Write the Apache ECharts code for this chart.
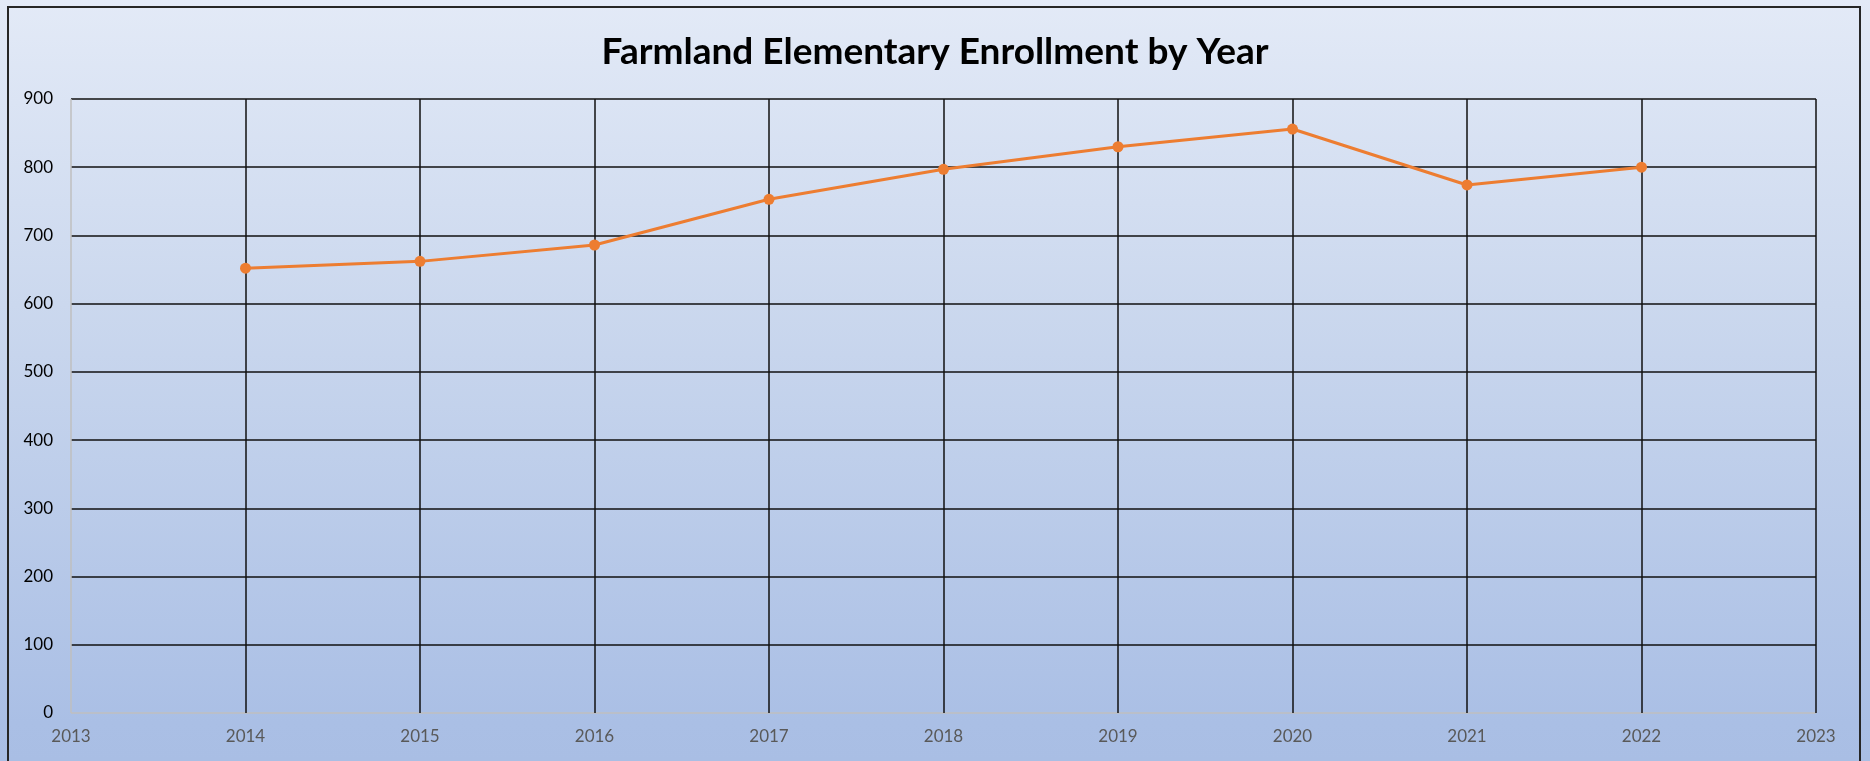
<!DOCTYPE html>
<html style="height: 100%">
<head>
    <meta charset="utf-8">
</head>
<body style="height: 100%; margin: 0; width: 100%;">
<div id="container" style="height: 100%; width: 100%; background: linear-gradient(to bottom, #e3eaf7 0%, #cbd8ee 40%, #aabfe5 95%, #a9bee4 100%);"></div>
<script src="https://cdn.jsdelivr.net/npm/echarts@6/dist/echarts.min.js"></script>
<script type="text/javascript">
var years = [2014, 2015, 2016, 2017, 2018, 2019, 2020, 2021, 2022];
var enrollment = [652, 662, 686, 753, 797, 830, 856, 774, 800];

var dom = document.getElementById("container");
var myChart = echarts.init(dom);

// first split line sits on the axis itself and is grey in the original
var xGridColors = ['#bfbfbf'];
for (var i = 0; i < 10; i++) xGridColors.push('#111');
var yGridColors = ['#bfbfbf'];
for (var j = 0; j < 9; j++) yGridColors.push('#111');

var option = {
    backgroundColor: 'transparent',
    title: {
        text: 'Farmland Elementary Enrollment by Year',
        left: 'center',
        top: 29,
        textStyle: {
            fontFamily: 'Lato',
            fontWeight: 'bold',
            fontSize: 37,
            color: '#000'
        }
    },
    graphic: [{
        type: 'rect',
        shape: {x: 8, y: 7, width: 1852, height: 800},
        style: {fill: 'none', stroke: '#262626', lineWidth: 2},
        silent: true
    }],
    grid: {
        left: 71,
        right: 54,
        top: 99,
        bottom: 48
    },
    xAxis: {
        type: 'value',
        min: 2013,
        max: 2023,
        interval: 1,
        axisLine: {show: false},
        axisTick: {show: false},
        axisLabel: {
            margin: 15,
            color: '#595959',
            fontFamily: 'Lato',
            fontSize: 17,
            formatter: function (v) { return String(v); }
        },
        splitLine: {
            show: true,
            lineStyle: {color: xGridColors, width: 1.5}
        }
    },
    yAxis: {
        type: 'value',
        min: 0,
        max: 900,
        interval: 100,
        axisLine: {show: false},
        axisTick: {show: false},
        axisLabel: {
            margin: 18,
            color: '#000',
            fontFamily: 'Lato',
            fontSize: 17
        },
        splitLine: {
            show: true,
            lineStyle: {color: yGridColors, width: 1.5}
        }
    },
    series: [{
        type: 'line',
        data: years.map(function (y, k) { return [y, enrollment[k]]; }),
        symbol: 'circle',
        symbolSize: 11,
        itemStyle: {color: '#ED7D31'},
        lineStyle: {color: '#ED7D31', width: 3},
        animation: false
    }]
};

myChart.setOption(option, true);
</script>
</body>
</html>
